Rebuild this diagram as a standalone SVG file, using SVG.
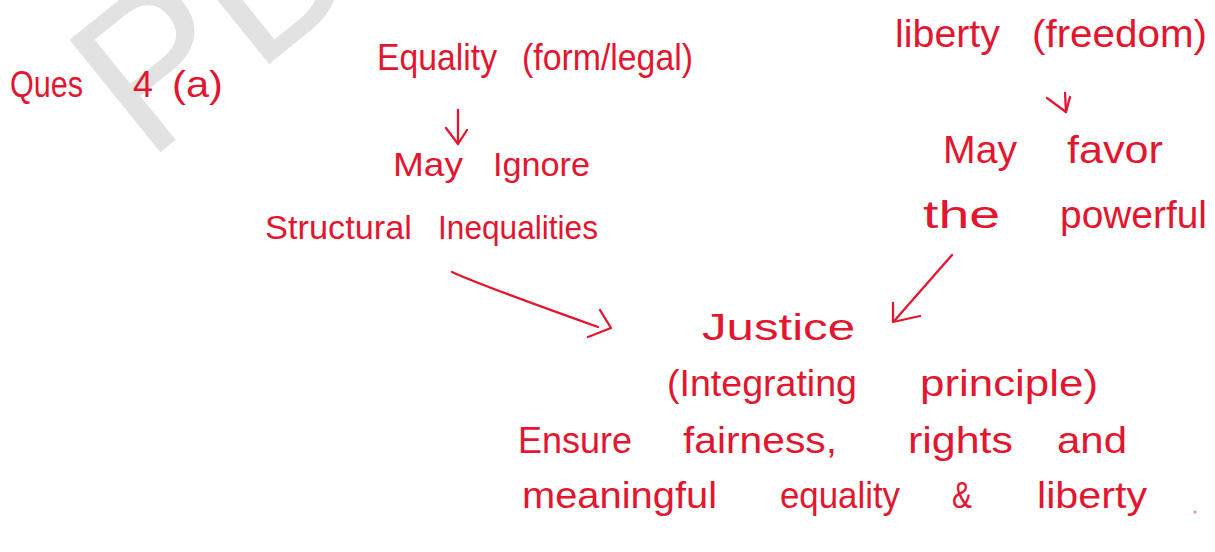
<svg xmlns="http://www.w3.org/2000/svg" width="1215" height="552" viewBox="0 0 1215 552">
<style>
.t{font-family:"Liberation Sans",Arial,sans-serif;fill:#e3162f}
.c{fill:none;stroke:#e3162f;stroke-width:2.3;stroke-linecap:round;stroke-linejoin:round}
.wm{font-family:"Liberation Sans",Arial,sans-serif;fill:#e2e2e2}
</style>
<rect width="1215" height="552" fill="#ffffff"/>
<g id="watermark">
<text class="wm" x="0" y="0" font-size="210" transform="translate(147,163) rotate(-39)">PD</text>
</g>
<g id="connectors">
<path class="c" d="M458 110 L458 143"/>
<path class="c" d="M446 128 L458 144 L467 130"/>
<path class="c" d="M1065 93 L1066 112"/>
<path class="c" d="M1047 98 L1066 112 L1070 97"/>
<path class="c" d="M452 272 Q475 283 598 327"/>
<path class="c" d="M600 310 L611 328 L588 337"/>
<path class="c" d="M952 255 L895 320"/>
<path class="c" d="M893 303 L893 322 L920 316"/>
</g>
<g id="title"><text class="t" y="97" font-size="36"><tspan x="10" textLength="73" lengthAdjust="spacingAndGlyphs">Ques</tspan> <tspan x="133" textLength="20" lengthAdjust="spacingAndGlyphs">4</tspan> <tspan x="172" textLength="51" lengthAdjust="spacingAndGlyphs">(a)</tspan></text></g>
<g id="equality"><text class="t" y="70" font-size="36"><tspan x="377" textLength="120" lengthAdjust="spacingAndGlyphs">Equality</tspan> <tspan x="522" textLength="171" lengthAdjust="spacingAndGlyphs">(form/legal)</tspan></text></g>
<g id="may-ignore"><text class="t" y="176" font-size="34"><tspan x="393" textLength="70" lengthAdjust="spacingAndGlyphs">May</tspan> <tspan x="493" textLength="97" lengthAdjust="spacingAndGlyphs">Ignore</tspan></text></g>
<g id="structural"><text class="t" y="239" font-size="33"><tspan x="265" textLength="147" lengthAdjust="spacingAndGlyphs">Structural</tspan> <tspan x="438" textLength="160" lengthAdjust="spacingAndGlyphs">Inequalities</tspan></text></g>
<g id="liberty"><text class="t" y="47" font-size="38"><tspan x="895" textLength="105" lengthAdjust="spacingAndGlyphs">liberty</tspan> <tspan x="1032" textLength="175" lengthAdjust="spacingAndGlyphs">(freedom)</tspan></text></g>
<g id="may-favor"><text class="t" y="163" font-size="38"><tspan x="943" textLength="74" lengthAdjust="spacingAndGlyphs">May</tspan> <tspan x="1067" textLength="96" lengthAdjust="spacingAndGlyphs">favor</tspan></text></g>
<g id="powerful"><text class="t" y="228" font-size="38"><tspan x="923" textLength="77" lengthAdjust="spacingAndGlyphs">the</tspan> <tspan x="1060" textLength="147" lengthAdjust="spacingAndGlyphs">powerful</tspan></text></g>
<g id="justice">
<text class="t" x="702" y="340" font-size="36" textLength="153" lengthAdjust="spacingAndGlyphs">Justice</text>
<text class="t" y="396" font-size="37"><tspan x="667" textLength="190" lengthAdjust="spacingAndGlyphs">(Integrating</tspan> <tspan x="920" textLength="178" lengthAdjust="spacingAndGlyphs">principle)</tspan></text>
<text class="t" y="453" font-size="37"><tspan x="518" textLength="114" lengthAdjust="spacingAndGlyphs">Ensure</tspan> <tspan x="683" textLength="154" lengthAdjust="spacingAndGlyphs">fairness,</tspan> <tspan x="908" textLength="105" lengthAdjust="spacingAndGlyphs">rights</tspan> <tspan x="1057" textLength="70" lengthAdjust="spacingAndGlyphs">and</tspan></text>
<text class="t" y="508" font-size="37"><tspan x="522" textLength="195" lengthAdjust="spacingAndGlyphs">meaningful</tspan> <tspan x="780" textLength="120" lengthAdjust="spacingAndGlyphs">equality</tspan> <tspan x="952" textLength="20" lengthAdjust="spacingAndGlyphs">&amp;</tspan> <tspan x="1037" textLength="110" lengthAdjust="spacingAndGlyphs">liberty</tspan></text>
<circle cx="1195" cy="512" r="1.6" fill="#e3162f" opacity="0.5"/>
</g>
</svg>
